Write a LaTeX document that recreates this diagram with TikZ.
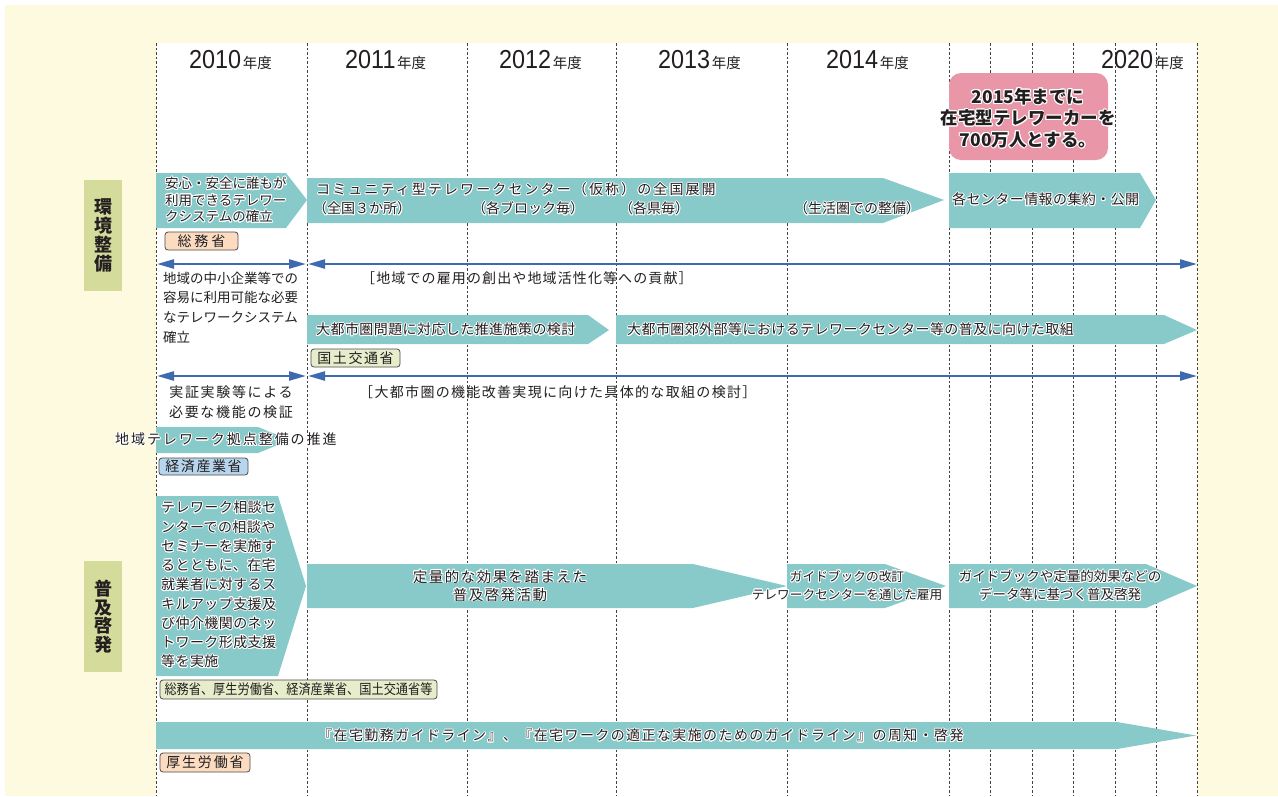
\documentclass[tikz,border=0pt]{standalone}
\usepackage{fontspec}
\usepackage{contour}
\usetikzlibrary{arrows.meta}
\setmainfont{Noto Sans CJK JP}
\newfontfamily\yearfont[FakeStretch=0.9]{Liberation Sans}
\contourlength{0.9pt}
\newcommand\hl[1]{\contour{white}{#1}}
\newcommand\LS[1]{\addfontfeature{LetterSpace=#1}}
\newcommand\fsz[2]{\fontsize{#1}{#2}\selectfont}
\definecolor{bgyel}{HTML}{FEFADF}
\definecolor{tealA}{HTML}{88C9CA}
\definecolor{bluA}{HTML}{3E6AB0}
\definecolor{pinkA}{HTML}{E996A9}
\definecolor{sidegreen}{HTML}{D4DB9B}
\definecolor{tagpeach}{HTML}{FCDCC0}
\definecolor{taggreen}{HTML}{E6EDCB}
\definecolor{tagblue}{HTML}{B7D5EC}
\definecolor{ink}{HTML}{231F20}
\tikzset{
  gridline/.style={draw=ink!85, line width=0.7pt, dash pattern=on 2.5pt off 2pt},
  tarrow/.style={fill=tealA},
  txt/.style={inner sep=0pt, anchor=west, align=left, text=ink},
  ctxt/.style={inner sep=0pt, align=center, text=ink},
  tagbox/.style={draw=ink!80, line width=0.8pt, rounded corners=3pt, inner sep=0pt, text=ink},
  sidebox/.style={fill=sidegreen, inner sep=0pt, minimum width=38pt, minimum height=111pt, align=center, text=ink, font=\bfseries\fsz{18}{18.7}},
  yearlbl/.style={inner sep=0pt, anchor=base west, text=ink},
  bluearrow/.style={draw=bluA, line width=2.4pt, {Triangle[length=17pt,width=9pt]}-{Triangle[length=17pt,width=9pt]}},
}
\newcommand\yr[1]{\yearfont\fsz{26}{26}#1\hspace{1.5pt}{\normalfont\fsz{14.5}{14.5}年度}}
\begin{document}
\begin{tikzpicture}[x=1pt,y=-1pt]
\useasboundingbox (0,0) rectangle (1278,796);
\fill[white] (0,0) rectangle (1278,796);
\fill[bgyel] (5,5) rectangle (1278,796);
\fill[white] (156,43) rectangle (1197,796);
\foreach \gx in {156,307,467,616,787,949,990,1032,1073,1115,1156,1197}
  \draw[gridline] (\gx,43) -- (\gx,796);

% year labels
\node[yearlbl] (y2010) at (189,68) {\yr{2010}};
\node[yearlbl] (y2011) at (345,68) {\yr{2011}};
\node[yearlbl] (y2012) at (499,68) {\yr{2012}};
\node[yearlbl] (y2013) at (658,68) {\yr{2013}};
\node[yearlbl] (y2014) at (826,68) {\yr{2014}};
\node[yearlbl] (y2020) at (1101,68) {\yr{2020}};

% goal box
\node[fill=pinkA, rounded corners=12pt, minimum width=159pt, minimum height=87pt, inner sep=0pt] (goal) at (1028.5,116.5) {};
\node[ctxt, font=\bfseries\fsz{17.5}{21.5}] (goaltxt) at (1028,118.5) {\hl{2015年までに}\\\hl{在宅型テレワーカーを}\\\hl{700万人とする。}};

% side boxes
\node[sidebox] (envbox) at (103,235.5) {環\\境\\整\\備};
\node[sidebox] (popbox) at (103,616.5) {普\\及\\啓\\発};

% row 1 arrows
\path[tarrow] (156,173) -- (286,173) -- (307,200) -- (286,228) -- (156,228) -- cycle;
\path[tarrow] (307,178) -- (883,178) -- (944,200) -- (883,223) -- (307,223) -- cycle;
\path[tarrow] (949,173) -- (1140,173) -- (1156,200) -- (1140,228) -- (949,228) -- cycle;
\node[txt, font=\fsz{13.5}{16.5}] (tA1) at (165,200.5) {\hl{安心・安全に誰もが}\\\hl{利用できるテレワー}\\\hl{クシステムの確立}};
\node[txt, font=\fsz{14}{14}\LS{15}] (tA2a) at (316,190) {\hl{コミュニティ型テレワークセンター（仮称）の全国展開}};
\node[txt, font=\fsz{14}{14}] (tA2b) at (313,209) {\hl{（全国３か所）}};
\node[txt, font=\fsz{14}{14}] (tA2c) at (472,209) {\hl{（各ブロック毎）}};
\node[txt, font=\fsz{14}{14}] (tA2d) at (619,209) {\hl{（各県毎）}};
\node[txt, font=\fsz{14}{14}] (tA2e) at (794,209) {\hl{（生活圏での整備）}};
\node[txt, font=\fsz{14}{14}\LS{3}] (tA3) at (952,200) {\hl{各センター情報の集約・公開}};
\node[tagbox, fill=tagpeach, minimum width=73pt, minimum height=18pt, font=\fsz{14}{14}\LS{20}] (tag1) at (201.5,241) {総務省};

% row 2
\coordinate (aL1) at (157,264); \coordinate (aR1) at (306,264);
\coordinate (bL1) at (308,264); \coordinate (bR1) at (1197,264);
\draw[bluearrow] (aL1) -- (aR1);
\draw[bluearrow] (bL1) -- (bR1);
\node[txt, font=\fsz{13.5}{19.7}] (tR2a) at (163,307.5) {地域の中小企業等での\\容易に利用可能な必要\\なテレワークシステム\\確立};
\node[txt, font=\fsz{14}{14}\LS{8}] (tR2b) at (361,278) {［地域での雇用の創出や地域活性化等への貢献］};

% row 3
\path[tarrow] (307,315) -- (588,315) -- (609,330) -- (588,344) -- (307,344) -- cycle;
\path[tarrow] (616,315) -- (1164,315) -- (1197,330) -- (1164,344) -- (616,344) -- cycle;
\node[txt, font=\fsz{14}{14}\LS{3}] (tR3a) at (316,330) {\hl{大都市圏問題に対応した推進施策の検討}};
\node[txt, font=\fsz{14}{14}\LS{3}] (tR3b) at (627,330) {\hl{大都市圏郊外部等におけるテレワークセンター等の普及に向けた取組}};
\node[tagbox, fill=taggreen, minimum width=89pt, minimum height=18pt, font=\fsz{14}{14}\LS{11}] (tag2) at (355.5,358) {国土交通省};

% row 4
\coordinate (aL2) at (157,376); \coordinate (aR2) at (306,376);
\coordinate (bL2) at (308,376); \coordinate (bR2) at (1197,376);
\draw[bluearrow] (aL2) -- (aR2);
\draw[bluearrow] (bL2) -- (bR2);
\node[ctxt, font=\fsz{14}{20}\LS{12}] (tR4a) at (231,402) {実証実験等による\\必要な機能の検証};
\node[txt, font=\fsz{14}{14}\LS{9.5}] (tR4b) at (359,392) {［大都市圏の機能改善実現に向けた具体的な取組の検討］};

% row 5
\path[tarrow] (156,427) -- (258,427) -- (290,440) -- (258,453) -- (156,453) -- cycle;
\node[txt, font=\fsz{14}{14}\LS{14}] (tR5) at (115,440) {\hl{地域テレワーク拠点整備の推進}};
\node[tagbox, fill=tagblue, minimum width=89pt, minimum height=17pt, font=\fsz{14}{14}\LS{11}] (tag3) at (203.5,466.5) {経済産業省};

% popularisation section
\path[tarrow] (156,496) -- (278,496) -- (306,586) -- (278,676) -- (156,676) -- cycle;
\path[tarrow] (307,564) -- (693,564) -- (787,586) -- (693,608) -- (307,608) -- cycle;
\path[tarrow] (787,564) -- (885,564) -- (946,586) -- (885,608) -- (787,608) -- cycle;
\path[tarrow] (949,564) -- (1146,564) -- (1197,586) -- (1146,608) -- (949,608) -- cycle;
\node[txt, font=\fsz{14}{19.25}\LS{3}] (tB1) at (161,585) {\hl{テレワーク相談セ}\\\hl{ンターでの相談や}\\\hl{セミナーを実施す}\\\hl{るとともに、在宅}\\\hl{就業者に対するス}\\\hl{キルアップ支援及}\\\hl{び仲介機関のネッ}\\\hl{トワーク形成支援}\\\hl{等を実施}};
\node[ctxt, font=\fsz{14.5}{18}\LS{10}] (tB2) at (500,586) {\hl{定量的な効果を踏まえた}\\\hl{普及啓発活動}};
\node[ctxt, font=\fsz{12.7}{18}] (tB3) at (847,586) {\hl{ガイドブックの改訂}\\\hl{テレワークセンターを通じた雇用}};
\node[ctxt, font=\fsz{13.5}{18}] (tB4) at (1060,586) {\hl{ガイドブックや定量的効果などの}\\\hl{データ等に基づく普及啓発}};
\node[tagbox, fill=taggreen, minimum width=277pt, minimum height=19pt, font=\fsz{14}{14}\addfontfeature{FakeStretch=0.87}] (tag4) at (298.5,689.5) {総務省、厚生労働省、経済産業省、国土交通省等};

\path[tarrow] (156,722) -- (1117,722) -- (1196,735.5) -- (1117,749) -- (156,749) -- cycle;
\node[txt, font=\fsz{14}{14}\LS{10}] (tB5) at (318,736) {\hl{『在宅勤務ガイドライン』、『在宅ワークの適正な実施のためのガイドライン』の周知・啓発}};
\node[tagbox, fill=tagpeach, minimum width=90pt, minimum height=19pt, font=\fsz{14}{14}\LS{13}] (tag5) at (205,762.5) {厚生労働省};
\end{tikzpicture}
\end{document}
